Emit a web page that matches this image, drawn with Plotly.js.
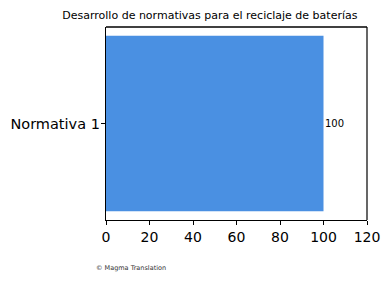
<!DOCTYPE html>
<html>
<head>
<meta charset="utf-8">
<script src="https://cdn.plot.ly/plotly-3.0.1.min.js"></script>
<style>html,body{margin:0;padding:0;background:#fff;}#chart{width:390px;height:282px;}</style>
</head>
<body>
<div id="chart"></div>
<script>
var categories = ["Normativa 1"];
var values = [100];
var labels = ["100"];
var titleText = "Desarrollo de normativas para el reciclaje de baterías";
var xTicks = [0, 20, 40, 60, 80, 100, 120];
var footnote = "© Magma Translation";

var font = "DejaVu Sans, sans-serif";

var trace = {
  type: "bar",
  orientation: "h",
  x: values,
  y: categories,
  marker: {color: "#4a90e2", line: {width: 0}},
  hoverinfo: "none"
};

var annotations = values.map(function(v, i) {
  return {
    x: v, y: categories[i], xref: "x", yref: "y",
    text: labels[i], showarrow: false,
    xanchor: "left", yanchor: "middle", xshift: -1,
    font: {family: font, size: 10, color: "#000"}
  };
});
annotations.push({
  x: -0.045, y: -0.25, xref: "paper", yref: "paper",
  text: footnote, showarrow: false, xanchor: "left", yanchor: "middle",
  font: {family: font, size: 6.5, color: "#333"}
});

var layout = {
  width: 390, height: 282,
  margin: {l: 106, r: 23, t: 27, b: 62, pad: 0},
  paper_bgcolor: "#fff", plot_bgcolor: "#fff",
  showlegend: false,
  bargap: 0.2,
  title: {
    text: titleText,
    font: {family: font, size: 11, color: "#000"},
    xref: "paper", x: 0.398, xanchor: "center",
    yref: "container", y: 0.948, yanchor: "middle"
  },
  xaxis: {
    range: [0, 120], tickvals: xTicks, ticktext: xTicks.map(String),
    showgrid: false, zeroline: false,
    showline: true, linecolor: "#000", linewidth: 1.2,
    ticks: "outside", ticklen: 4, tickwidth: 1, tickcolor: "#000",
    tickfont: {family: font, size: 14, color: "#000"}
  },
  yaxis: {
    range: [-0.44, 0.44],
    showgrid: false, zeroline: false,
    showline: true, linecolor: "#000", linewidth: 1.2,
    ticks: "outside", ticklen: 4, tickwidth: 1, tickcolor: "#000",
    tickfont: {family: font, size: 14.5, color: "#000"},
    ticklabelstandoff: -2
  },
  shapes: [
    {type: "line", xref: "x domain", yref: "y domain", x0: 0, x1: 1, y0: 1, y1: 1,
     line: {color: "#000", width: 1.5}, layer: "above"},
    {type: "line", xref: "paper", yref: "paper", x0: 1, x1: 1, y0: 0, y1: 1,
     line: {color: "#000", width: 1.2}, layer: "above"}
  ],
  annotations: annotations
};

Plotly.newPlot("chart", [trace], layout, {staticPlot: true, displayModeBar: false});
</script>
</body>
</html>
